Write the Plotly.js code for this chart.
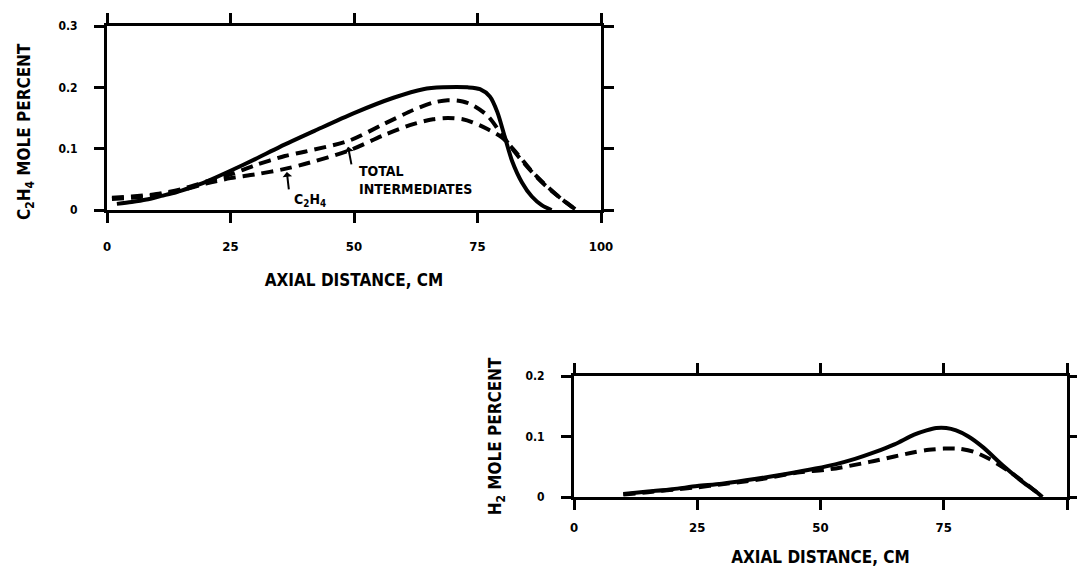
<!DOCTYPE html>
<html>
<head>
<meta charset="utf-8">
<script src="https://cdn.plot.ly/plotly-3.0.1.min.js"></script>
<style>html,body{margin:0;padding:0;background:#fff;}#chart{width:1077px;height:574px;}</style>
</head>
<body>
<div id="chart"></div>
<script>
// ---- Top panel: C2H4 mole percent vs axial distance ----
const topSolidX = [2, 5, 8, 11, 14, 17, 20, 25, 30, 35, 42, 50, 58, 64, 68, 73, 75.5, 77.5, 79, 80.5, 82, 84, 86, 88, 90];
const topSolidY = [0.010, 0.013, 0.017, 0.023, 0.029, 0.037, 0.046, 0.064, 0.083, 0.103, 0.129, 0.158, 0.183, 0.197, 0.200, 0.200, 0.197, 0.185, 0.160, 0.120, 0.080, 0.045, 0.022, 0.008, 0.0];

const topTotalX = [1, 5, 10, 15, 20, 25, 30, 36, 40, 49, 56, 62, 66, 69, 72, 74, 77, 80, 83, 86, 89, 92, 95];
const topTotalY = [0.020, 0.022, 0.026, 0.034, 0.046, 0.058, 0.073, 0.088, 0.095, 0.113, 0.140, 0.163, 0.175, 0.179, 0.177, 0.171, 0.154, 0.122, 0.090, 0.062, 0.038, 0.018, 0.0];

const topC2H4X = [1, 5, 10, 15, 20, 25, 30, 36, 40, 49, 56, 62, 66, 69, 72, 74, 77, 80, 83, 86, 89, 92, 95];
const topC2H4Y = [0.018, 0.020, 0.024, 0.032, 0.043, 0.052, 0.058, 0.067, 0.075, 0.097, 0.122, 0.140, 0.148, 0.150, 0.148, 0.143, 0.132, 0.118, 0.092, 0.063, 0.039, 0.018, 0.0];

// ---- Bottom panel: H2 mole percent vs axial distance ----
const botSolidX = [10, 15, 20, 25, 30, 37, 43, 49, 53, 57, 61, 65, 69, 71.5, 73.5, 75.5, 77.5, 80, 83, 87, 91, 94, 95];
const botSolidY = [0.005, 0.009, 0.013, 0.018, 0.022, 0.030, 0.038, 0.047, 0.054, 0.063, 0.074, 0.087, 0.103, 0.110, 0.114, 0.114, 0.110, 0.100, 0.082, 0.052, 0.025, 0.007, 0.0];

const botDashX = [10, 15, 20, 25, 30, 35, 39, 45, 52, 60, 65, 69, 72, 75, 78, 81, 84, 88, 92, 95];
const botDashY = [0.004, 0.008, 0.012, 0.016, 0.021, 0.026, 0.031, 0.040, 0.046, 0.058, 0.067, 0.074, 0.078, 0.080, 0.080, 0.075, 0.064, 0.044, 0.020, 0.0];

// ---- Tick labels ----
const xTickVals = [0, 25, 50, 75, 100];
const xTickText = ['0', '25', '50', '75', '100'];
const yTopTickVals = [0, 0.1, 0.2, 0.3];
const yTopTickText = ['0', '0.1', '0.2', '0.3'];
const yBotTickVals = [0, 0.1, 0.2];
const yBotTickText = ['0', '0.1', '0.2'];

const xTitle = 'AXIAL DISTANCE, CM';
const yTopTitle = 'C<sub>2</sub>H<sub>4</sub> MOLE PERCENT';
const yBotTitle = 'H<sub>2</sub> MOLE PERCENT';

const FONT = 'Liberation Sans Narrow, DejaVu Sans Condensed, Arial Narrow, sans-serif';
const solidLine = {color: '#000', width: 4, shape: 'spline', smoothing: 0.8};
const dashLine = {color: '#000', width: 4, dash: '12px,7px', shape: 'spline', smoothing: 0.8};

const traces = [
  {x: topSolidX, y: topSolidY, mode: 'lines', line: solidLine, xaxis: 'x', yaxis: 'y', name: 'solid'},
  {x: topTotalX, y: topTotalY, mode: 'lines', line: dashLine, xaxis: 'x', yaxis: 'y', name: 'TOTAL INTERMEDIATES'},
  {x: topC2H4X, y: topC2H4Y, mode: 'lines', line: dashLine, xaxis: 'x', yaxis: 'y', name: 'C2H4'},
  {x: botSolidX, y: botSolidY, mode: 'lines', line: solidLine, xaxis: 'x2', yaxis: 'y2', name: 'solid H2'},
  {x: botDashX, y: botDashY, mode: 'lines', line: dashLine, xaxis: 'x2', yaxis: 'y2', name: 'dashed H2'}
];

function axisCommon(extra) {
  return Object.assign({
    showline: true, linecolor: '#000', linewidth: 3,
    mirror: 'allticks', ticks: 'outside', ticklen: 10, tickwidth: 3, tickcolor: '#000',
    showgrid: false, zeroline: false, fixedrange: true,
    tickfont: {family: FONT, size: 13, color: '#000', weight: 'bold'},
    tickmode: 'array'
  }, extra);
}

const titleFont = {family: FONT, size: 17, weight: 'bold', color: '#000'};

const layout = {
  width: 1077, height: 574,
  margin: {l: 0, r: 0, t: 0, b: 0},
  paper_bgcolor: '#fff', plot_bgcolor: '#fff',
  showlegend: false,
  font: {family: FONT, color: '#000'},
  xaxis: axisCommon({domain: [107/1077, 601/1077], range: [0, 100], tickvals: xTickVals, ticktext: xTickText,
    anchor: 'y', ticklabelstandoff: 12,
    title: {text: xTitle, font: titleFont, standoff: 22}}),
  yaxis: axisCommon({domain: [(574-210)/574, (574-26)/574], range: [0, 0.3], tickvals: yTopTickVals, ticktext: yTopTickText,
    anchor: 'x', ticklabelstandoff: 14, tickfont: {family: FONT, size: 12, color: '#000', weight: 'bold'}}),
  xaxis2: axisCommon({domain: [574/1077, 1067/1077], range: [0, 100], tickvals: xTickVals, ticktext: xTickText,
    anchor: 'y2', ticklabelstandoff: 6,
    title: {text: xTitle, font: titleFont, standoff: 18}}),
  yaxis2: axisCommon({domain: [(574-497)/574, (574-376)/574], range: [0, 0.2], tickvals: yBotTickVals, ticktext: yBotTickText,
    anchor: 'x2', ticklabelstandoff: 14, tickfont: {family: FONT, size: 12, color: '#000', weight: 'bold'},
    title: {text: yBotTitle, font: titleFont, standoff: 20}}),
  annotations: [
    {xref: 'paper', yref: 'paper', x: 25/1077, y: (574-132)/574, text: yTopTitle, textangle: -90, showarrow: false,
      xanchor: 'center', yanchor: 'middle', font: titleFont},
    {xref: 'x', yref: 'y', x: 48.8, y: 0.103, text: ' ', showarrow: true, arrowhead: 1, arrowsize: 0.8, arrowwidth: 2, arrowcolor: '#000', ax: 5, ay: 26},
    {xref: 'x', yref: 'y', x: 50.6, y: 0.049, text: 'TOTAL<br>INTERMEDIATES', showarrow: false, xanchor: 'left', yanchor: 'middle', align: 'left',
      font: {family: FONT, size: 14, weight: 'bold', color: '#000'}},
    {xref: 'x', yref: 'y', x: 36.4, y: 0.062, text: ' ', showarrow: true, arrowhead: 1, arrowsize: 0.8, arrowwidth: 2, arrowcolor: '#000', ax: 3, ay: 26},
    {xref: 'x', yref: 'y', x: 37.5, y: 0.017, text: 'C<sub>2</sub>H<sub>4</sub>', showarrow: false, xanchor: 'left', yanchor: 'middle',
      font: {family: FONT, size: 14, weight: 'bold', color: '#000'}}
  ]
};

Plotly.newPlot('chart', traces, layout, {staticPlot: true, displayModeBar: false});
</script>
</body>
</html>
